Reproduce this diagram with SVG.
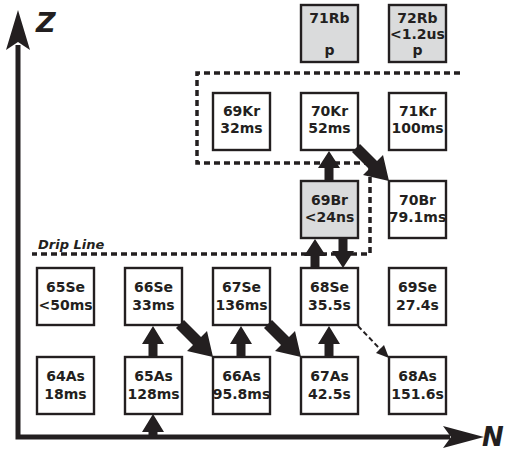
<svg xmlns="http://www.w3.org/2000/svg" width="505" height="452" viewBox="0 0 505 452">
<style>
.box{fill:#fff;stroke:#231f20;stroke-width:2.4}
.g{fill:#dadbdc}
.t{font-family:"DejaVu Sans",sans-serif;font-weight:bold;font-size:14px;fill:#231f20;text-anchor:middle}
.ax{font-family:"DejaVu Sans",sans-serif;font-weight:bold;font-style:italic;fill:#231f20}
.dash{fill:none;stroke:#231f20;stroke-width:3.5;stroke-dasharray:6 4}
.ar{fill:#231f20}
</style>
<rect width="505" height="452" fill="#fff"/>
<g id="axes">
<path d="M18,45 L18,437 L450,437" fill="none" stroke="#231f20" stroke-width="5"/>
<polygon points="18,10 30,50 18,42 6,50" class="ar"/>
<polygon points="484,437 443,426 451,437 443,448" class="ar"/>
<text x="36" y="32" class="ax" font-size="27">Z</text>
<text x="482" y="446" class="ax" font-size="26">N</text>
</g>
<g id="dripline">
<path d="M460,73 L197,73 L197,163 L370,163 L370,254 L32,254" class="dash"/>
<text x="38" y="249" class="ax" font-size="13">Drip Line</text>
</g>
<g id="n71Rb"><rect x="301" y="5" width="57" height="57" class="box g"/><text class="t" x="329.5" y="23">71Rb</text><text class="t" x="329.5" y="55">p</text></g>
<g id="n72Rb"><rect x="389" y="5" width="57" height="57" class="box g"/><text class="t" x="417.5" y="23">72Rb</text><text class="t" x="417.5" y="39">&lt;1.2us</text><text class="t" x="417.5" y="55">p</text></g>
<g id="n69Kr"><rect x="213" y="93" width="57" height="57" class="box"/><text class="t" x="241.5" y="116">69Kr</text><text class="t" x="241.5" y="133">32ms</text></g>
<g id="n70Kr"><rect x="301" y="93" width="57" height="57" class="box"/><text class="t" x="329.5" y="116">70Kr</text><text class="t" x="329.5" y="133">52ms</text></g>
<g id="n71Kr"><rect x="389" y="93" width="57" height="57" class="box"/><text class="t" x="417.5" y="116">71Kr</text><text class="t" x="417.5" y="133">100ms</text></g>
<g id="n69Br"><rect x="301" y="181" width="57" height="57" class="box g"/><text class="t" x="329.5" y="205">69Br</text><text class="t" x="329.5" y="222">&lt;24ns</text></g>
<g id="n70Br"><rect x="389" y="181" width="57" height="57" class="box"/><text class="t" x="417.5" y="205">70Br</text><text class="t" x="417.5" y="222">79.1ms</text></g>
<g id="n65Se"><rect x="37" y="268" width="57" height="57" class="box"/><text class="t" x="65.5" y="292">65Se</text><text class="t" x="65.5" y="310">&lt;50ms</text></g>
<g id="n66Se"><rect x="125" y="268" width="57" height="57" class="box"/><text class="t" x="153.5" y="292">66Se</text><text class="t" x="153.5" y="310">33ms</text></g>
<g id="n67Se"><rect x="213" y="268" width="57" height="57" class="box"/><text class="t" x="241.5" y="292">67Se</text><text class="t" x="241.5" y="310">136ms</text></g>
<g id="n68Se"><rect x="301" y="268" width="57" height="57" class="box"/><text class="t" x="329.5" y="292">68Se</text><text class="t" x="329.5" y="310">35.5s</text></g>
<g id="n69Se"><rect x="389" y="268" width="57" height="57" class="box"/><text class="t" x="417.5" y="292">69Se</text><text class="t" x="417.5" y="310">27.4s</text></g>
<g id="n64As"><rect x="37" y="357" width="57" height="57" class="box"/><text class="t" x="65.5" y="381">64As</text><text class="t" x="65.5" y="399">18ms</text></g>
<g id="n65As"><rect x="125" y="357" width="57" height="57" class="box"/><text class="t" x="153.5" y="381">65As</text><text class="t" x="153.5" y="399">128ms</text></g>
<g id="n66As"><rect x="213" y="357" width="57" height="57" class="box"/><text class="t" x="241.5" y="381">66As</text><text class="t" x="241.5" y="399">95.8ms</text></g>
<g id="n67As"><rect x="301" y="357" width="57" height="57" class="box"/><text class="t" x="329.5" y="381">67As</text><text class="t" x="329.5" y="399">42.5s</text></g>
<g id="n68As"><rect x="389" y="357" width="57" height="57" class="box"/><text class="t" x="417.5" y="381">68As</text><text class="t" x="417.5" y="399">151.6s</text></g>
<g id="connectors">
<polygon points="148.5,435 148.5,432 142,432 153,414 164,432 157.5,432 157.5,435" class="ar"/>
<polygon points="148.5,357 148.5,344 142,344 153,326 164,344 157.5,344 157.5,357" class="ar"/>
<polygon points="236.5,357 236.5,344 230,344 241,326 252,344 245.5,344 245.5,357" class="ar"/>
<polygon points="324.5,357 324.5,344 318,344 329,326 340,344 333.5,344 333.5,357" class="ar"/>
<polygon points="310.5,269 310.5,256 304,256 315,239 326,256 319.5,256 319.5,269" class="ar"/>
<polygon points="338.5,238 338.5,251 332,251 343,268 354,251 347.5,251 347.5,238" class="ar"/>
<polygon points="324.5,181 324.5,168 318,168 329,151 340,168 333.5,168 333.5,181" class="ar"/>
<polygon points="176,328 184,320 201,337 207,331 213,357 187,351 193,345" class="ar"/>
<polygon points="264,328 272,320 289,337 295,331 301,357 275,351 281,345" class="ar"/>
<polygon points="352,152 360,144 377,161 383,155 389,181 363,175 369,169" class="ar"/>
<path d="M358,326 L381,350" fill="none" stroke="#231f20" stroke-width="2" stroke-dasharray="5 3"/>
<polygon points="389,358 376,353 384,345" class="ar"/>
</g>
</svg>
